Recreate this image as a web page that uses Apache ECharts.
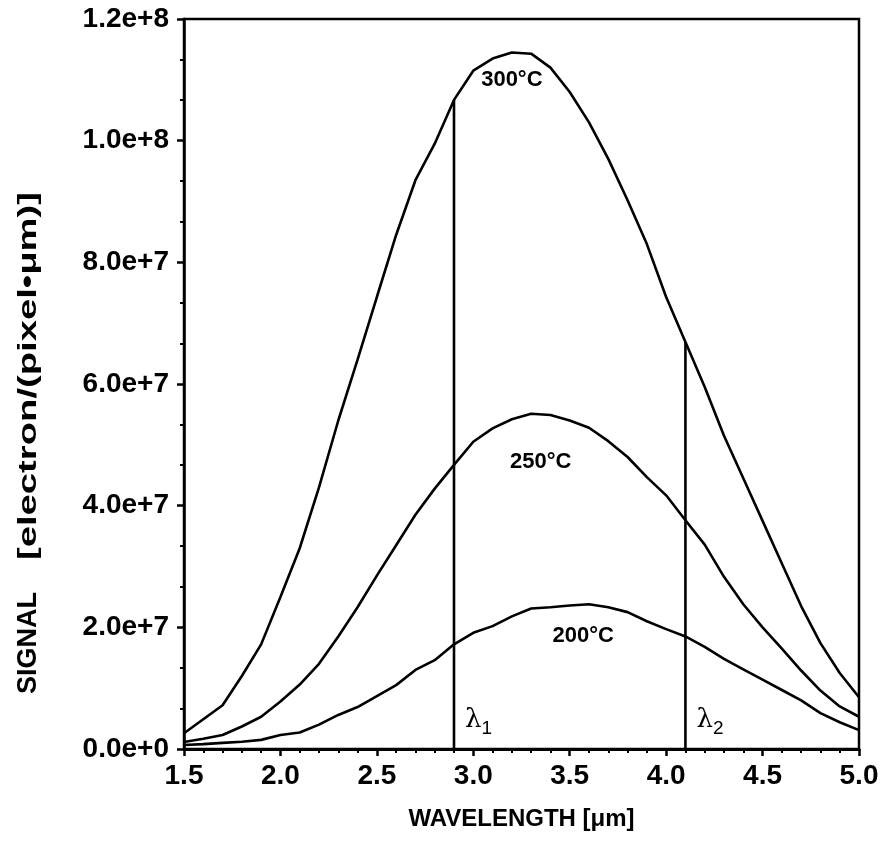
<!DOCTYPE html>
<html>
<head>
<meta charset="utf-8">
<script src="https://cdn.jsdelivr.net/npm/echarts@6/dist/echarts.min.js"></script>
<style>html,body{margin:0;padding:0;background:#fff;}#c{width:883px;height:849px;}</style>
</head>
<body>
<div id="c"></div>
<script>
const wavelengths = [1.5,1.6,1.7,1.8,1.9,2.0,2.1,2.2,2.3,2.4,2.5,2.6,2.7,2.8,2.9,3.0,3.1,3.2,3.3,3.4,3.5,3.6,3.7,3.8,3.9,4.0,4.1,4.2,4.3,4.4,4.5,4.6,4.7,4.8,4.9,5.0];
const signal300 = [2.6e6,4.9e6,7.2e6,1.2e7,1.72e7,2.5e7,3.3e7,4.3e7,5.4e7,6.4e7,7.43e7,8.45e7,9.35e7,9.95e7,1.067e8,1.115e8,1.135e8,1.145e8,1.143e8,1.12e8,1.08e8,1.03e8,9.7e7,9.02e7,8.3e7,7.43e7,6.69e7,5.95e7,5.15e7,4.45e7,3.75e7,3.05e7,2.35e7,1.74e7,1.25e7,8.5e6];
const signal250 = [1.15e6,1.7e6,2.3e6,3.7e6,5.3e6,7.8e6,1.06e7,1.4e7,1.85e7,2.33e7,2.85e7,3.35e7,3.85e7,4.28e7,4.67e7,5.05e7,5.27e7,5.42e7,5.51e7,5.49e7,5.4e7,5.28e7,5.06e7,4.8e7,4.47e7,4.17e7,3.76e7,3.36e7,2.83e7,2.38e7,2.0e7,1.65e7,1.29e7,9.6e6,7.0e6,5.3e6];
const signal200 = [6.6e5,8.0e5,1.0e6,1.2e6,1.5e6,2.3e6,2.7e6,4.0e6,5.6e6,6.9e6,8.7e6,1.05e7,1.3e7,1.46e7,1.72e7,1.91e7,2.02e7,2.18e7,2.31e7,2.33e7,2.36e7,2.38e7,2.33e7,2.25e7,2.1e7,1.97e7,1.85e7,1.68e7,1.48e7,1.31e7,1.14e7,9.7e6,8.0e6,5.9e6,4.4e6,3.1e6];
const xTicks = [1.5,2.0,2.5,3.0,3.5,4.0,4.5,5.0];
const yTicks = [0,2e7,4e7,6e7,8e7,1e8,1.2e8];
// cut-off wavelengths and the height of their markers (meets the 300°C curve)
const lambdaNames = ['1','2'];
const lambdaX = [2.9,4.1];
const lambdaTop = [1.067e8,6.69e7];
// curve labels, in data coordinates
const curveLabels = ['300°C','250°C','200°C'];
const curveLabelX = [3.2,3.35,3.57];
const curveLabelY = [1.1e8,4.72e7,1.86e7];
const lambdaLabelY = 4.8e6;

const FONT = '"Liberation Sans", Arial, Helvetica, sans-serif';
const pair = arr => wavelengths.map((w,i)=>[w,arr[i]]);
const lineStyle = {color:'#000', width:2.6};
const curve = (name, arr) => ({type:'line', name, data: pair(arr), symbol:'none', lineStyle, z:3, animation:false});

const series = [
  curve('300°C', signal300),
  curve('250°C', signal250),
  curve('200°C', signal200)
];
lambdaX.forEach((x,i)=>{
  series.push({type:'line', data:[[x,0],[x,lambdaTop[i]]], symbol:'none', lineStyle:{color:'#000',width:2.6}, z:3, animation:false});
});
series.push({
  type:'scatter', symbolSize:0, animation:false, z:5, itemStyle:{opacity:1},
  data: curveLabels.map((t,i)=>({value:[curveLabelX[i],curveLabelY[i]], name:t})),
  label:{show:true, position:'inside', formatter:p=>p.name, color:'#000', opacity:1, fontFamily:FONT, fontWeight:'bold', fontSize:22}
});
series.push({
  type:'scatter', symbolSize:0, animation:false, z:5, itemStyle:{opacity:1},
  data: lambdaNames.map((t,i)=>({value:[lambdaX[i],lambdaLabelY], name:t})),
  label:{show:true, position:'right', distance:11, opacity:1, formatter:p=>'{l|λ}{s|'+p.name+'}',
    rich:{l:{fontFamily:'"DejaVu Serif", serif', fontSize:26, color:'#000', verticalAlign:'bottom'},
          s:{fontFamily:FONT, fontSize:19, color:'#000', verticalAlign:'bottom', padding:[0,0,-5,0]}}}
});

const chart = echarts.init(document.getElementById('c'), null, {renderer:'canvas'});
chart.setOption({
  backgroundColor:'#fff',
  animation:false,
  grid:{left:184, top:19, right:24, bottom:100, show:true, borderColor:'#000', borderWidth:2.5, backgroundColor:'transparent'},
  xAxis:{
    type:'value', min:1.5, max:5.0, interval:0.5,
    axisLine:{show:true, onZero:false, lineStyle:{color:'#000', width:3}},
    axisTick:{show:true, length:7, lineStyle:{color:'#000', width:2.5}},
    minorTick:{show:true, splitNumber:5, length:4, lineStyle:{color:'#000', width:2}},
    splitLine:{show:false},
    axisLabel:{color:'#000', fontFamily:FONT, fontWeight:'bold', fontSize:28, margin:13, formatter:v=>v.toFixed(1)},
    name:'WAVELENGTH [μm]', nameLocation:'middle', nameGap:58,
    nameTextStyle:{color:'#000', fontFamily:FONT, fontWeight:'bold', fontSize:24}
  },
  yAxis:{
    type:'value', min:0, max:1.2e8, interval:2e7,
    axisLine:{show:true, lineStyle:{color:'#000', width:2.5}},
    axisTick:{show:true, length:7, lineStyle:{color:'#000', width:2.5}},
    minorTick:{show:true, splitNumber:3, length:4, lineStyle:{color:'#000', width:2}},
    splitLine:{show:false},
    axisLabel:{color:'#000', fontFamily:FONT, fontWeight:'bold', fontSize:28, margin:15, formatter:v=>v.toExponential(1)}
  },
  graphic:[{
    type:'text', x:29, y:643, rotation:Math.PI/2,
    style:{text:'SIGNAL', fill:'#000', font:'bold 27px '+FONT, align:'center', verticalAlign:'middle'}
  },{
    type:'text', x:29, y:376, rotation:Math.PI/2, scaleX:1.47,
    style:{text:'[electron/(pixel•μm)]', fill:'#000', font:'bold 26px '+FONT, align:'center', verticalAlign:'middle'}
  }],
  series
});
</script>
</body>
</html>
